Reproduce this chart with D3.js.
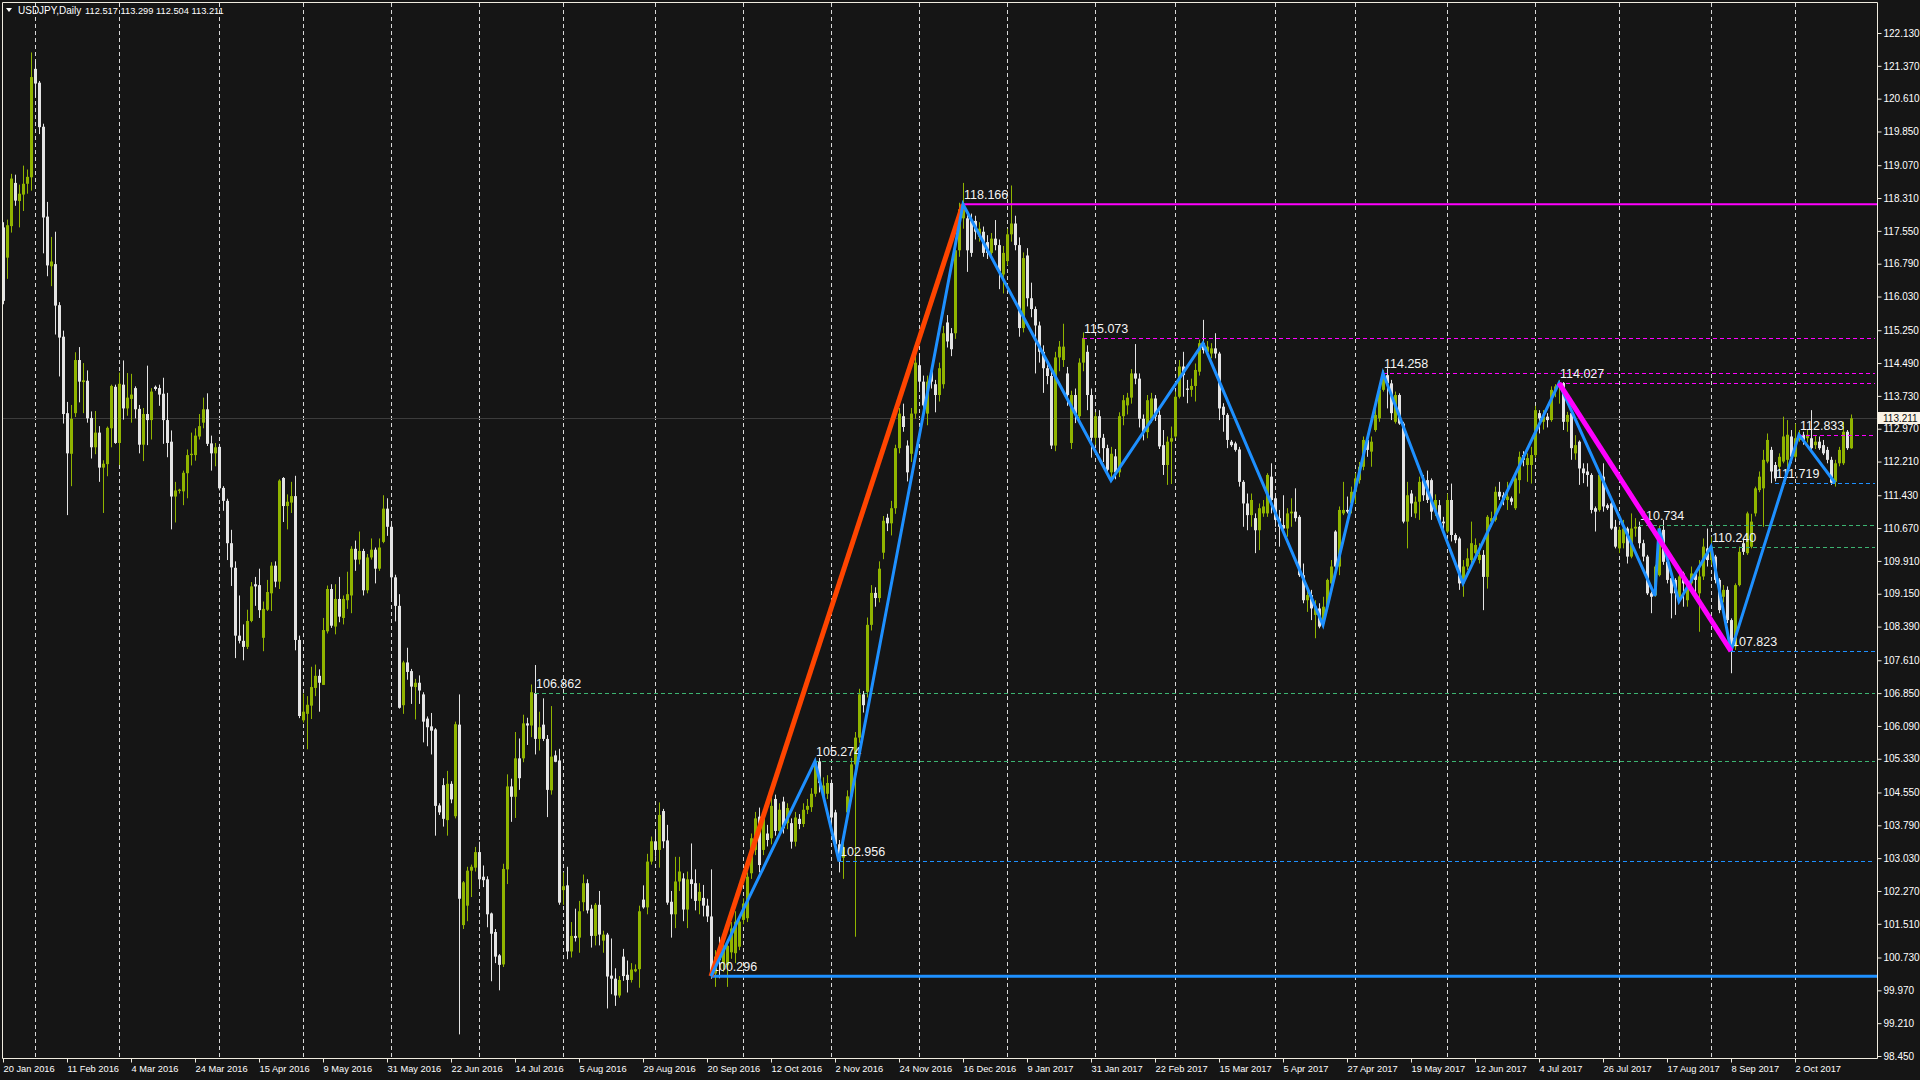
<!DOCTYPE html>
<html><head><meta charset="utf-8">
<script src="https://cdn.jsdelivr.net/npm/d3@7"></script>
<style>html,body{margin:0;padding:0;background:#151515;overflow:hidden}svg{display:block}</style>
</head><body>
<svg id="chart" width="1920" height="1080"></svg>
<script>
// ---------------- DATA ----------------
const symbolTitle = "USDJPY,Daily";
const lastBarText = "112.517 113.299 112.504 113.211";
const currentPrice = 113.211;

const opens = [
117.63,116.93,117.66,118.66,118.24,118.39,118.64,118.79,121.30,120.98,
119.96,117.88,116.73,116.78,115.83,115.10,113.33,112.39,113.33,114.56,
114.05,114.08,113.22,112.54,112.88,112.07,112.15,112.98,113.94,112.64,
113.99,113.44,113.66,113.91,113.43,112.60,113.31,113.17,113.94,113.91,
113.78,113.17,112.67,111.40,111.53,111.52,111.94,112.36,112.36,112.79,
113.11,113.42,112.63,112.40,112.55,111.60,111.30,110.32,109.75,108.18,
108.06,107.92,108.52,109.37,109.35,108.13,108.78,109.16,109.80,109.43,
111.83,111.18,111.26,111.41,108.08,106.22,106.37,106.56,106.97,107.25,
107.04,108.28,109.26,108.39,109.03,108.59,109.00,109.11,110.19,109.94,
110.14,109.23,109.99,110.17,109.73,110.35,111.12,110.70,109.53,108.87,
106.57,107.56,107.36,106.99,107.09,106.82,106.26,106.08,106.01,104.25,
104.72,103.91,104.75,104.00,106.12,101.48,101.93,102.74,102.81,103.17,
102.60,102.54,101.75,101.32,100.78,100.57,102.77,104.69,104.45,105.34,
105.34,106.15,106.10,106.85,105.79,106.12,105.79,104.60,105.41,105.29,
102.29,102.40,100.87,101.23,101.19,102.01,102.45,101.86,101.23,101.95,
101.12,101.26,100.31,100.24,99.85,100.75,100.33,100.21,100.41,100.46,
102.07,101.89,102.95,103.42,103.22,104.12,103.44,102.02,101.73,102.49,
102.56,101.84,102.54,102.45,102.04,102.11,101.93,101.68,100.36,100.90,
100.60,100.55,100.85,100.83,100.98,101.60,101.64,102.68,103.22,103.99,
103.22,103.60,103.49,104.40,103.66,104.34,103.84,103.84,103.41,103.94,
103.82,104.15,104.21,104.52,105.27,104.46,104.52,104.77,104.09,103.35,
103.04,104.09,104.46,105.20,105.82,106.82,106.88,108.43,109.17,109.05,
110.10,110.91,110.78,111.13,112.52,113.26,112.58,112.39,113.32,114.44,
114.06,113.32,114.31,114.00,113.75,114.00,115.43,115.18,115.18,117.10,
117.84,117.84,117.78,117.78,117.41,117.53,117.29,117.04,117.37,117.22,
116.54,116.85,117.47,117.72,117.22,115.30,116.98,115.99,115.74,115.36,
114.75,114.37,114.19,112.58,114.62,114.56,114.25,112.64,113.75,113.26,
114.50,114.75,113.75,112.76,113.26,112.76,112.52,111.96,112.33,111.96,
113.26,113.51,113.69,114.25,114.13,113.20,112.89,113.20,113.67,113.29,
112.59,112.13,112.67,112.79,113.71,114.41,113.90,113.87,113.96,114.29,
114.95,114.75,114.71,114.83,114.71,113.48,113.29,112.67,112.63,112.49,
111.74,111.24,110.97,110.90,110.62,111.01,111.01,111.86,111.36,110.90,
110.74,110.66,111.01,111.05,110.93,109.58,109.00,109.12,108.66,108.81,
108.46,108.85,109.39,110.59,109.78,111.01,111.09,111.24,111.51,111.78,
112.09,112.71,112.44,112.94,113.21,113.87,114.21,114.02,113.13,113.75,
113.09,110.82,111.47,111.01,111.28,111.78,111.78,111.78,111.09,111.20,
110.82,110.59,111.32,110.51,110.43,109.39,109.78,109.93,110.09,109.93,
110.05,109.54,110.82,110.86,111.51,111.43,111.32,111.36,111.13,111.78,
112.36,112.13,112.13,112.36,113.33,113.13,113.25,113.17,113.87,113.95,
114.03,113.13,113.33,112.40,112.67,112.05,111.98,111.90,111.13,111.09,
111.86,111.20,111.24,110.70,110.20,110.32,110.66,110.01,110.66,110.70,
110.32,110.01,109.16,109.12,109.58,110.63,109.89,109.51,109.47,109.08,
109.62,109.00,109.39,109.62,109.16,109.55,110.20,109.93,110.01,109.47,
109.08,109.24,108.54,107.93,109.35,110.32,110.09,110.24,111.01,111.55,
111.59,112.21,112.48,112.13,112.09,112.21,112.25,112.79,112.32,112.71,
112.83,112.75,112.75,112.59,112.67,112.59,112.48,112.25,111.74,112.17,
112.17,112.90,112.517];

const highs = [
117.75,117.81,118.87,118.85,118.62,119.06,118.97,121.68,121.48,121.02,
120.03,118.22,117.41,117.53,115.90,115.24,113.59,113.52,114.74,114.86,
114.49,114.32,113.37,113.38,113.03,112.24,113.02,113.99,113.99,114.27,
114.55,114.26,114.24,113.95,113.52,113.45,114.43,113.91,113.97,113.99,
114.15,113.80,112.93,111.74,111.58,112.00,112.49,112.88,112.98,113.31,
113.69,113.79,112.81,112.64,112.62,111.64,111.35,110.63,109.90,109.11,
108.44,108.78,109.42,109.54,109.73,108.97,109.47,109.88,109.90,111.80,
111.85,111.45,111.74,111.88,108.18,106.84,106.78,107.46,107.51,107.40,
108.59,109.34,109.37,109.37,109.54,109.11,109.66,110.25,110.38,110.59,
110.19,110.07,110.43,110.22,110.43,111.43,111.36,110.75,109.59,109.14,
107.60,107.90,107.41,107.18,107.26,106.87,106.31,106.39,106.04,104.30,
104.88,105.05,104.81,106.19,106.82,102.50,102.83,102.88,103.29,103.41,
102.86,102.61,101.77,101.39,100.81,102.90,104.97,104.87,105.95,105.80,
106.35,106.28,107.05,107.50,106.42,106.73,105.88,106.55,105.52,105.56,
102.70,102.83,101.55,101.86,102.04,102.65,102.54,101.95,101.99,102.27,
101.35,101.30,101.17,100.48,100.30,100.93,100.66,100.60,100.57,101.93,
102.40,103.13,103.53,103.67,104.32,104.17,103.80,102.27,103.06,103.06,
102.68,102.72,103.37,102.77,102.45,102.41,102.09,102.77,100.90,101.21,
101.10,101.15,101.55,101.80,101.70,102.10,102.70,103.60,104.10,104.20,
104.05,103.80,104.45,104.50,104.30,104.45,104.30,103.95,104.10,104.05,
104.30,104.40,104.65,105.30,105.35,104.90,104.95,104.85,104.15,103.45,
103.40,104.60,105.35,105.95,106.95,106.90,108.60,109.35,109.30,109.90,
110.95,111.00,111.30,112.60,113.45,113.55,112.70,113.45,114.80,114.70,
114.20,114.20,114.40,114.10,114.50,115.35,115.60,115.30,117.25,118.20,
118.66,118.00,117.95,117.90,117.75,117.65,117.45,117.50,117.80,117.35,
117.20,117.60,118.60,117.90,117.40,117.05,117.15,116.35,115.80,115.45,
114.90,114.50,114.30,114.75,115.00,115.40,114.40,113.85,113.90,114.60,
115.20,114.90,113.90,113.35,113.40,112.85,112.60,112.55,112.50,113.35,
113.75,113.80,114.35,114.93,114.25,113.30,113.75,113.80,113.75,113.40,
112.94,112.79,113.02,113.83,114.56,114.75,114.10,114.13,114.48,115.03,
115.49,115.00,114.95,115.18,114.75,113.56,113.33,112.71,112.67,112.55,
111.78,111.47,111.47,111.01,111.24,111.32,111.94,112.17,111.40,111.09,
111.43,111.13,111.36,111.59,110.97,109.85,109.31,109.24,109.00,108.93,
109.08,109.50,109.93,110.62,111.17,111.74,111.40,111.63,111.94,112.20,
112.79,112.75,112.79,113.48,113.94,114.33,114.37,114.10,113.83,113.79,
113.13,111.74,111.55,111.40,111.86,111.90,112.00,111.82,111.45,111.32,
110.93,111.47,111.70,110.55,110.47,109.93,110.20,110.82,110.43,110.32,
110.16,110.97,111.05,111.63,111.74,111.50,111.74,111.40,111.94,112.44,
112.45,112.40,112.55,113.50,113.40,113.40,113.33,113.95,114.00,114.10,
114.05,113.36,113.40,112.82,112.70,112.17,112.17,111.94,111.17,111.94,
112.17,111.24,111.32,110.86,110.70,110.86,110.70,111.01,110.90,110.82,
110.40,110.05,109.20,109.82,110.73,110.86,109.97,109.55,109.51,109.62,
109.66,109.47,109.78,109.66,109.93,110.43,110.66,110.47,110.05,109.51,
109.35,109.32,108.58,109.39,110.24,110.40,111.05,111.00,111.63,111.98,
112.48,112.86,112.55,112.20,112.40,113.25,113.17,112.94,113.09,112.94,
112.90,112.95,113.40,112.80,112.79,112.71,112.55,112.32,112.25,112.55,
113.13,112.94,113.299];

const lows = [
115.85,116.44,117.51,118.13,117.63,118.01,118.41,118.48,120.65,119.79,
117.03,116.50,116.27,115.15,114.18,113.09,110.97,111.64,113.24,113.58,
113.33,113.11,112.28,112.38,111.74,111.02,111.87,112.54,112.62,112.13,
113.18,113.27,113.11,113.21,112.40,112.22,112.59,112.72,113.85,113.50,
112.62,112.31,110.64,110.80,111.47,111.20,111.36,112.12,112.23,112.72,
112.98,112.57,112.00,112.10,111.54,111.07,109.93,109.33,107.66,108.00,
107.61,107.87,108.49,108.87,108.59,107.82,108.75,108.75,109.30,109.26,
110.81,110.64,111.02,107.84,106.27,106.17,105.55,106.25,106.78,106.42,
107.04,108.23,108.36,108.21,108.49,108.44,108.80,108.70,109.68,109.83,
109.11,109.16,109.94,109.39,109.68,110.32,110.49,109.05,108.51,106.49,
106.37,107.16,106.60,106.24,106.60,105.71,105.62,105.43,103.55,104.03,
103.76,103.55,104.30,103.95,98.95,101.39,101.57,102.13,102.72,102.40,
102.36,101.43,100.18,100.60,99.97,100.51,102.43,103.87,103.96,104.61,
105.25,105.65,105.83,105.43,105.52,105.74,103.98,104.50,105.25,101.95,
101.95,100.69,100.73,101.10,100.84,101.80,101.75,100.96,101.01,101.01,
100.84,99.55,99.88,99.61,99.80,100.19,99.92,100.15,100.39,100.03,
101.86,101.73,102.88,103.06,102.81,103.26,101.95,101.19,101.41,102.27,
101.57,101.41,102.09,101.82,101.73,101.68,101.55,100.24,100.05,100.25,
100.40,100.05,100.70,100.60,100.90,101.50,101.55,102.55,103.10,102.70,
103.10,103.30,103.35,103.55,103.55,103.60,103.70,103.25,103.30,103.70,
103.75,104.05,104.10,104.45,104.55,104.35,104.40,103.85,103.20,102.70,
102.55,103.90,104.35,101.21,105.70,106.40,106.75,108.30,108.85,108.95,
109.95,110.60,110.50,111.00,112.40,112.90,111.75,112.20,113.20,113.90,
113.30,113.05,113.90,113.35,113.60,113.90,114.85,114.65,115.05,116.95,
117.60,116.60,116.95,117.35,117.30,116.95,116.90,116.95,117.10,116.20,
116.10,116.75,117.30,117.10,115.10,115.20,115.80,115.55,114.25,114.50,
113.80,114.00,112.50,112.45,114.30,114.40,113.50,112.50,113.10,113.10,
114.30,113.40,112.30,112.60,112.40,112.20,111.90,111.75,111.80,111.85,
113.05,113.30,113.55,114.00,113.00,112.70,112.75,113.10,113.15,112.50,
111.90,111.67,111.69,112.75,113.67,113.71,113.56,113.71,113.60,114.20,
114.71,114.65,114.60,114.60,113.17,112.90,112.52,112.55,112.44,111.63,
110.70,110.62,110.70,110.09,110.16,110.93,110.93,111.01,110.70,110.24,
110.55,110.47,110.70,110.82,109.54,108.93,108.73,108.54,108.12,108.35,
108.39,108.81,109.31,109.74,109.58,110.97,111.01,111.01,111.24,111.70,
112.01,112.32,112.09,112.90,113.13,113.83,113.44,113.17,113.09,113.06,
110.78,110.20,110.93,110.90,110.86,111.30,111.25,110.86,110.95,110.78,
110.55,110.55,110.36,110.32,109.24,109.08,109.70,109.78,110.01,109.85,
108.77,109.27,110.70,110.82,111.32,111.20,111.09,111.20,111.09,111.47,
112.10,111.74,111.70,112.30,112.86,112.95,113.00,113.13,113.70,113.55,
112.94,112.90,112.25,112.25,111.67,111.71,111.63,111.01,110.59,111.05,
111.05,111.09,110.63,110.20,110.09,110.20,109.85,109.97,110.47,110.20,
109.90,109.12,108.70,109.08,109.55,109.82,109.39,108.58,108.66,109.00,
108.85,108.85,109.32,109.16,108.27,109.47,109.78,109.82,109.39,108.70,
108.95,108.47,107.31,107.85,109.32,110.05,110.05,110.20,110.94,111.50,
110.70,112.17,111.71,111.75,112.00,112.17,112.02,112.17,112.28,112.67,
112.60,112.65,112.45,112.50,112.48,112.36,112.17,111.67,111.63,112.10,
112.13,112.48,112.504];

const closes = [
115.93,117.68,118.76,118.25,118.41,118.64,118.80,121.11,120.96,119.95,
117.86,116.75,116.84,115.82,115.08,113.31,112.40,113.20,114.56,114.06,
114.09,113.21,112.54,112.88,112.07,112.16,112.99,113.96,112.64,114.01,
113.44,113.69,113.76,113.42,112.60,113.31,113.17,113.83,113.89,113.76,
113.17,112.64,111.40,111.54,111.56,111.95,112.36,112.39,112.81,113.03,
113.42,112.62,112.40,112.54,111.59,111.30,110.32,109.76,108.18,108.06,
107.92,108.52,109.32,109.32,108.77,108.80,109.19,109.80,109.43,111.77,
111.18,111.28,111.41,108.08,106.32,106.42,106.58,106.99,107.25,107.09,
108.31,109.26,108.41,109.03,108.62,109.03,109.14,110.19,109.94,110.14,
109.23,109.99,110.17,109.73,110.22,111.12,110.70,109.53,108.87,106.51,
107.56,107.34,107.00,107.09,106.91,106.19,106.06,105.98,104.24,104.09,
103.94,104.75,104.39,106.13,102.09,102.47,102.74,102.83,103.17,102.54,
102.52,101.73,101.28,100.75,100.56,102.78,104.69,104.45,105.34,104.88,
106.15,106.10,106.87,105.79,106.06,105.79,104.61,105.38,105.26,102.00,
102.38,100.87,101.23,101.18,101.80,102.45,101.82,101.23,101.95,101.26,
101.26,100.29,100.24,99.85,100.21,100.30,100.21,100.45,100.46,101.80,
101.89,102.95,103.42,103.22,104.03,103.42,102.00,101.73,102.49,102.72,
101.84,102.54,102.43,102.04,102.25,101.93,101.68,100.30,100.75,100.67,
100.95,101.00,101.40,101.56,101.56,101.98,102.60,103.49,103.95,102.87,
103.95,103.45,104.24,103.66,104.15,103.72,104.19,103.41,103.97,103.82,
104.15,104.24,104.52,105.27,104.77,104.71,104.77,103.97,103.35,102.96,
103.28,104.46,105.20,105.82,106.82,106.57,108.43,109.17,109.05,109.73,
110.84,110.78,111.13,112.52,113.32,113.01,111.96,113.32,114.50,114.06,
113.51,114.06,114.06,113.75,114.37,115.18,114.99,114.81,117.10,118.05,
118.17,117.10,117.04,117.53,117.60,117.04,117.04,117.37,117.22,116.61,
117.04,117.47,117.72,117.22,115.30,116.92,115.99,115.74,115.36,114.75,
114.37,114.19,112.58,114.62,114.87,114.87,113.75,113.75,113.32,114.50,
115.07,113.75,112.76,113.26,112.76,112.52,112.02,112.39,111.96,113.26,
113.63,113.69,114.25,114.13,113.20,112.89,113.63,113.67,113.25,112.56,
112.13,112.67,112.75,113.71,114.41,114.21,113.87,113.96,114.33,114.95,
114.79,114.87,114.83,114.71,113.44,113.29,112.71,112.59,112.48,111.74,
111.24,110.97,111.32,110.62,111.13,111.17,111.90,111.32,110.86,110.70,
110.66,111.01,111.05,110.90,109.58,109.00,109.12,108.81,108.85,108.39,
108.85,109.47,109.78,109.78,111.09,111.09,111.05,111.51,111.82,112.09,
112.71,112.48,112.67,113.29,113.87,114.26,114.02,113.33,113.75,113.09,
110.82,111.43,111.24,111.28,111.74,111.43,111.32,111.05,111.32,110.82,
110.78,111.32,110.51,110.39,109.39,109.78,109.97,110.32,110.28,110.05,
109.54,110.93,110.90,111.51,111.40,111.32,111.40,111.28,111.82,112.32,
112.25,112.29,112.36,113.40,113.21,113.25,113.17,113.87,113.95,114.03,
113.13,113.29,112.52,112.59,112.05,111.94,111.90,111.09,111.05,111.90,
111.17,111.13,110.66,110.24,110.63,110.66,110.01,110.66,110.70,110.32,
110.01,109.16,109.08,109.78,110.66,109.89,109.47,109.16,109.16,109.55,
109.39,109.39,109.62,109.47,109.55,110.24,109.93,110.24,109.47,108.77,
109.24,108.54,107.82,109.35,110.12,110.12,111.01,110.82,111.59,111.86,
112.25,112.71,111.98,111.82,112.32,112.79,112.83,112.32,112.75,112.83,
112.71,112.83,112.52,112.67,112.52,112.40,112.25,111.72,112.17,112.48,
112.90,112.52,113.211];

// time axis labels, one every 16 bars
const timeLabels = ["20 Jan 2016","11 Feb 2016","4 Mar 2016","24 Mar 2016","15 Apr 2016","9 May 2016",
  "31 May 2016","22 Jun 2016","14 Jul 2016","5 Aug 2016","29 Aug 2016","20 Sep 2016","12 Oct 2016",
  "2 Nov 2016","24 Nov 2016","16 Dec 2016","9 Jan 2017","31 Jan 2017","22 Feb 2017","15 Mar 2017",
  "5 Apr 2017","27 Apr 2017","19 May 2017","12 Jun 2017","4 Jul 2017","26 Jul 2017","17 Aug 2017",
  "8 Sep 2017","2 Oct 2017"];
const timeLabelStep = 16;
// bar index of the first bar of each month (vertical grid)
const monthStartBars = [8,29,54,75,97,119,140,163,185,207,229,251,273,293,318,338,361,383,404,427,448];
// price axis labels
const priceTicks = [122.130,121.370,120.610,119.850,119.070,118.310,117.550,116.790,116.030,115.250,
  114.490,113.730,112.970,112.210,111.430,110.670,109.910,109.150,108.390,107.610,106.850,106.090,
  105.330,104.550,103.790,103.030,102.270,101.510,100.730,99.970,99.210,98.450];

// swing levels (dashed) : start bar, price, kind
const levelBars   = [133, 203, 209, 270, 345, 389, 409, 427, 432, 449, 443];
const levelValues = [106.862,105.274,102.956,115.073,114.258,114.027,110.734,110.240,107.823,112.833,111.719];
const levelKinds  = ["broken","broken","low","high","high","high","broken","broken","low","high","low"];
// key levels (solid)
const keyLowBar = 177, keyLowValue = 100.296;
const keyHighBar = 240, keyHighValue = 118.166;
// zigzag
const zigBars   = [177,203,209,240,277,300,330,345,365,389,413,414,419,427,432,449,458];
const zigValues = [100.296,105.274,102.956,118.166,111.77,114.95,108.43,114.258,109.39,114.027,109.10,110.66,108.97,110.240,107.823,112.833,111.719];
// trend lines
const impulseBars = [177,240], impulseValues = [100.296,118.166];
const correctionBars = [389,432], correctionValues = [114.027,107.823];

// ---------------- DRAWING ----------------
const W = 1920, H = 1080;
const plotRight = 1877, plotBottom = 1058;
const FONT = "'Liberation Sans', Arial, sans-serif";
const BULL = "#90b400", BEAR = "#e4e4e4";
const svg = d3.select("#chart");

const x = d3.scaleLinear().domain([0, 462]).range([3, 1851]);
const y = d3.scaleLinear().domain([98.45, 122.13]).range([1056, 33]);
const X = i => Math.round(x(i));

svg.append("rect").attr("width", W).attr("height", H).attr("fill", "#151515");

// vertical grid
svg.append("g").selectAll("line").data(monthStartBars).join("line")
  .attr("x1", d => X(d) + 0.5).attr("x2", d => X(d) + 0.5)
  .attr("y1", 3).attr("y2", plotBottom)
  .attr("stroke", "#d8d8d8").attr("stroke-width", 1).attr("stroke-dasharray", "4,3");

// current price line
const cpY = Math.round(y(currentPrice)) + 0.5;
svg.append("line").attr("x1", 3).attr("x2", plotRight).attr("y1", cpY).attr("y2", cpY)
  .attr("stroke", "#3c3c3c").attr("stroke-width", 1);

// candles
const bars = d3.range(opens.length).map(i => ({i, o: opens[i], h: highs[i], l: lows[i], c: closes[i]}));
const cg = svg.append("g");
cg.selectAll("line").data(bars).join("line")
  .attr("x1", d => X(d.i) + 0.5).attr("x2", d => X(d.i) + 0.5)
  .attr("y1", d => y(Math.max(d.h, d.o, d.c))).attr("y2", d => y(Math.min(d.l, d.o, d.c)))
  .attr("stroke", d => d.c >= d.o ? BULL : BEAR).attr("stroke-width", 1);
cg.selectAll("rect").data(bars).join("rect")
  .attr("x", d => X(d.i) - 1).attr("width", 3)
  .attr("y", d => y(Math.max(d.o, d.c)))
  .attr("height", d => Math.max(1, Math.abs(y(d.o) - y(d.c))))
  .attr("fill", d => d.c >= d.o ? BULL : BEAR);

// dashed swing levels
const kindColor = {high: "#ff00ff", broken: "#3cb371", low: "#1e90ff"};
const levels = levelBars.map((b, k) => ({b, v: levelValues[k], kind: levelKinds[k]}));
const lg = svg.append("g");
lg.selectAll("line").data(levels).join("line")
  .attr("x1", d => X(d.b)).attr("x2", plotRight - 2)
  .attr("y1", d => Math.round(y(d.v)) + 0.5).attr("y2", d => Math.round(y(d.v)) + 0.5)
  .attr("stroke", d => kindColor[d.kind]).attr("stroke-width", 1).attr("stroke-dasharray", "4,3");

// solid key levels
svg.append("line").attr("x1", X(keyHighBar)).attr("x2", plotRight)
  .attr("y1", y(keyHighValue)).attr("y2", y(keyHighValue))
  .attr("stroke", "#ff00ff").attr("stroke-width", 2);
svg.append("line").attr("x1", X(keyLowBar)).attr("x2", plotRight)
  .attr("y1", y(keyLowValue)).attr("y2", y(keyLowValue))
  .attr("stroke", "#1e90ff").attr("stroke-width", 3);

// level labels
const allLabels = levels.map(d => ({b: d.b, v: d.v}))
  .concat([{b: keyLowBar, v: keyLowValue}, {b: keyHighBar, v: keyHighValue}]);
svg.append("g").selectAll("text").data(allLabels).join("text")
  .attr("x", d => X(d.b) + 1).attr("y", d => y(d.v) - 5)
  .attr("fill", "#f4f4f4").attr("font-family", FONT).attr("font-size", "12.5px")
  .text(d => d.v.toFixed(3));

// trend lines and zigzag
const line = d3.line().x(d => x(d[0])).y(d => y(d[1]));
svg.append("path").attr("d", line(impulseBars.map((b, k) => [b, impulseValues[k]])))
  .attr("fill", "none").attr("stroke", "#ff4500").attr("stroke-width", 5);
svg.append("path").attr("d", line(zigBars.map((b, k) => [b, zigValues[k]])))
  .attr("fill", "none").attr("stroke", "#1e90ff").attr("stroke-width", 3).attr("stroke-linejoin", "miter");
svg.append("path").attr("d", line(correctionBars.map((b, k) => [b, correctionValues[k]])))
  .attr("fill", "none").attr("stroke", "#ff00ff").attr("stroke-width", 5);

// frame
svg.append("path").attr("d", `M2.5,${plotBottom + 0.5} V2.5 H${plotRight + 0.5} V${plotBottom + 0.5} H2.5`)
  .attr("fill", "none").attr("stroke", "#f0ece0").attr("stroke-width", 1);

// price axis
const ya = svg.append("g").attr("transform", `translate(${plotRight + 0.5},0)`)
  .call(d3.axisRight(y).tickValues(priceTicks).tickSize(4).tickPadding(2).tickFormat(d => d.toFixed(3)));
ya.select(".domain").remove();
ya.selectAll("line").attr("stroke", "#f0ece0");
ya.selectAll("text").attr("fill", "#ffffff").attr("font-family", FONT).attr("font-size", "10px");

// current price tag
svg.append("rect").attr("x", plotRight + 1).attr("y", cpY - 6.5).attr("width", W - plotRight - 1).attr("height", 12)
  .attr("fill", "#faf3e6");
svg.append("text").attr("x", plotRight + 6).attr("y", cpY + 3.5).attr("fill", "#101010")
  .attr("font-family", FONT).attr("font-size", "10px").text(currentPrice.toFixed(3));

// time axis
const tickIdx = timeLabels.map((_, k) => k * timeLabelStep);
const xa = svg.append("g").attr("transform", `translate(0.5,${plotBottom + 0.5})`)
  .call(d3.axisBottom(x).tickValues(tickIdx).tickSize(4).tickPadding(3).tickFormat((d, k) => timeLabels[k]));
xa.select(".domain").remove();
xa.selectAll(".tick").attr("transform", d => `translate(${X(d)},0)`);
xa.selectAll("line").attr("stroke", "#f0ece0");
xa.selectAll("text").attr("fill", "#ffffff").attr("font-family", FONT).attr("font-size", "9.3px")
  .attr("text-anchor", "start").attr("x", 0);

// title
svg.append("path").attr("d", "M6,8 L12,8 L9,12 Z").attr("fill", "#ffffff");
svg.append("text").attr("x", 18).attr("y", 14).attr("fill", "#ffffff")
  .attr("font-family", FONT).attr("font-size", "10px").text(symbolTitle);
svg.append("text").attr("x", 85).attr("y", 14).attr("fill", "#ffffff")
  .attr("font-family", FONT).attr("font-size", "9.3px").text(lastBarText);
</script>
</body></html>
